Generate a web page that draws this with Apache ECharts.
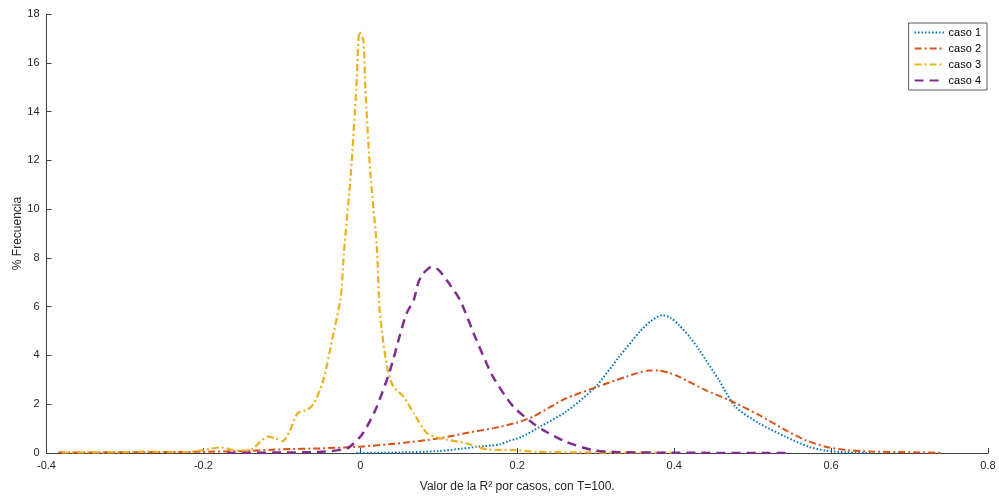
<!DOCTYPE html>
<html>
<head>
<meta charset="utf-8">
<script src="https://cdn.jsdelivr.net/npm/echarts@6/dist/echarts.min.js"></script>
<style>html,body{margin:0;padding:0;background:#fff}#c{width:999px;height:497px}</style>
</head>
<body>
<div id="c"></div>
<script>
// ---- data ----
const seriesNames = ['caso 1', 'caso 2', 'caso 3', 'caso 4'];
const xTicks = [-0.4, -0.2, 0, 0.2, 0.4, 0.6, 0.8];
const yTicks = [0, 2, 4, 6, 8, 10, 12, 14, 16, 18];

const x1 = [-0.005, 0.05, 0.1, 0.13, 0.15, 0.178, 0.19, 0.205, 0.229, 0.262, 0.3, 0.33, 0.356, 0.37, 0.385, 0.395, 0.406, 0.42, 0.432, 0.457, 0.478, 0.508, 0.542, 0.571, 0.593, 0.62, 0.65];
const y1 = [0, 0.02, 0.08, 0.18, 0.26, 0.35, 0.5, 0.65, 1.08, 1.69, 2.72, 3.95, 4.97, 5.4, 5.65, 5.55, 5.25, 4.75, 4.22, 2.99, 1.9, 1.22, 0.67, 0.26, 0.1, 0.03, 0];

const x2 = [-0.385, -0.3, -0.2, -0.15, -0.1, -0.05, 0, 0.05, 0.1, 0.14, 0.17, 0.2, 0.22, 0.24, 0.262, 0.3, 0.339, 0.368, 0.381, 0.394, 0.406, 0.44, 0.47, 0.508, 0.542, 0.567, 0.593, 0.62, 0.65, 0.7, 0.74];
const y2 = [0.02, 0.03, 0.05, 0.08, 0.15, 0.19, 0.26, 0.4, 0.6, 0.85, 1.02, 1.25, 1.49, 1.85, 2.24, 2.69, 3.13, 3.38, 3.38, 3.28, 3.13, 2.58, 2.17, 1.56, 0.94, 0.53, 0.26, 0.12, 0.06, 0.03, 0.01];

const x3 = [-0.38, -0.3, -0.27, -0.25, -0.22, -0.2, -0.178, -0.157, -0.14, -0.128, -0.118, -0.108, -0.099, -0.09, -0.08, -0.068, -0.059, -0.047, -0.036, -0.025, -0.021, -0.012, -0.005, -0.001, 0.004, 0.0063, 0.0127, 0.021, 0.025, 0.034, 0.042, 0.055, 0.068, 0.085, 0.102, 0.135, 0.161, 0.195, 0.224, 0.3, 0.4];
const y3 = [0.02, 0.03, 0.07, 0.03, 0.04, 0.12, 0.23, 0.1, 0.12, 0.45, 0.67, 0.6, 0.49, 0.9, 1.63, 1.76, 2.04, 3.0, 4.63, 6.4, 8.19, 11.5, 15.0, 17.27, 16.9, 15.0, 11.5, 8.46, 5.73, 3.54, 2.72, 2.31, 1.63, 0.81, 0.6, 0.4, 0.15, 0.12, 0.05, 0.02, 0.01];

const x4 = [-0.17, -0.1, -0.05, -0.017, 0, 0.0085, 0.021, 0.038, 0.051, 0.059, 0.068, 0.074, 0.08, 0.091, 0.1, 0.11, 0.127, 0.148, 0.169, 0.195, 0.22, 0.233, 0.262, 0.296, 0.326, 0.4, 0.55];
const y4 = [0.0, 0.02, 0.05, 0.19, 0.67, 1.08, 1.9, 3.4, 4.9, 5.73, 6.27, 7.0, 7.35, 7.64, 7.5, 7.09, 6.27, 4.63, 3.13, 1.9, 1.22, 0.94, 0.46, 0.12, 0.04, 0.01, 0.0];

const colors = ['#0072BD', '#D95319', '#EDB120', '#7E2F8E'];
const dashes = [[1.5, 2], [7, 3, 2, 3], [7, 3, 2, 3], [9, 6]];
const widths = [2, 2, 2.2, 2.5];

const zip = (xs, ys) => xs.map((x, i) => [x, ys[i]]);
const allX = [x1, x2, x3, x4];
const allY = [y1, y2, y3, y4];

const axisCol = '#404040';
const font = 'Liberation Sans, Arial, sans-serif';

const chart = echarts.init(document.getElementById('c'), null, {renderer: 'canvas'});
chart.setOption({
  animation: false,
  backgroundColor: '#fff',
  textStyle: {fontFamily: font},
  grid: {left: 46.5, right: 11, top: 14, bottom: 44, containLabel: false, outerBoundsMode: 'none'},
  legend: {
    orient: 'vertical', right: 12, top: 23,
    data: seriesNames,
    itemWidth: 30, itemHeight: 10, itemGap: 5,
    padding: [4, 6, 4, 5],
    borderColor: '#333', borderWidth: 0.8, backgroundColor: '#fff',
    itemStyle: {opacity: 0},
    textStyle: {fontFamily: font, fontSize: 11, color: '#000', padding: [0, 0, 0, -1]}
  },
  xAxis: {
    type: 'value', min: xTicks[0], max: xTicks[xTicks.length - 1], interval: 0.2,
    name: 'Valor de la R² por casos, con T=100.', nameLocation: 'middle', nameGap: 28,
    nameMoveOverlap: false,
    nameTextStyle: {fontFamily: font, fontSize: 12, color: '#262626'},
    axisLine: {show: true, onZero: false, lineStyle: {color: axisCol, width: 1}},
    axisTick: {show: true, inside: true, length: 5, lineStyle: {color: axisCol}},
    axisLabel: {fontFamily: font, fontSize: 11, color: '#262626', margin: 7,
      formatter: v => String(Math.round(v * 10) / 10)},
    splitLine: {show: false}
  },
  yAxis: {
    type: 'value', min: yTicks[0], max: yTicks[yTicks.length - 1], interval: 2,
    name: '% Frecuencia', nameLocation: 'middle', nameGap: 23, nameRotate: 90,
    nameMoveOverlap: false,
    nameTextStyle: {fontFamily: font, fontSize: 12, color: '#262626'},
    axisLine: {show: true, onZero: false, lineStyle: {color: axisCol, width: 1}},
    axisTick: {show: true, inside: true, length: 5, lineStyle: {color: axisCol}},
    axisLabel: {fontFamily: font, fontSize: 11, color: '#262626', margin: 7},
    splitLine: {show: false}
  },
  series: seriesNames.map((n, i) => ({
    name: n, type: 'line', symbol: 'none', smooth: 0.25,
    data: zip(allX[i], allY[i]),
    color: colors[i],
    lineStyle: {color: colors[i], width: widths[i], type: dashes[i]}
  }))
});
</script>
</body>
</html>
